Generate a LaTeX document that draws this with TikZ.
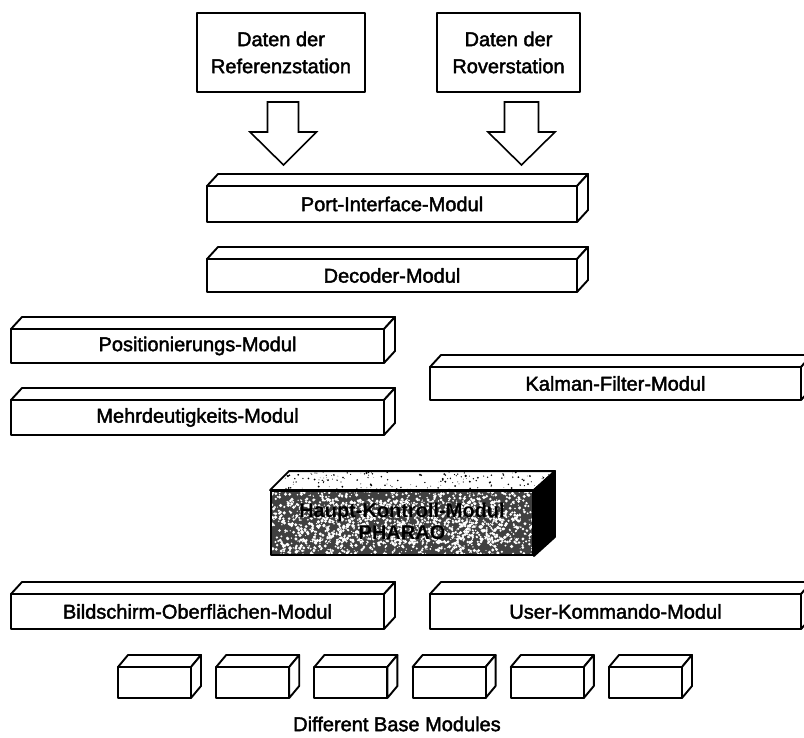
\documentclass[tikz,border=0pt]{standalone}
\usepackage{fontspec}
\setmainfont{Liberation Sans}
\newfontfamily\labelfont[FakeBold=2]{Liberation Sans}
\newfontfamily\mainlabelfont{Liberation Sans Bold}
\usetikzlibrary{calc}

\tikzset{
  edge/.style={line width=1.9pt, line join=round},
  databox/.style={edge, draw, fill=white, inner sep=0pt, align=center,
    font=\labelfont\fontsize{20}{27}\selectfont},
  frontface/.style={edge, draw, fill=white, inner sep=0pt,
    font=\labelfont\fontsize{20}{24}\selectfont},
  blockarrow/.style={line width=1.6pt, line join=miter, fill=white},
  caption/.style={inner sep=0pt, font=\labelfont\fontsize{20}{24}\selectfont},
  maintextstyle/.style={align=center, inner sep=0pt,
    font=\mainlabelfont\fontsize{20}{22}\selectfont},
}

% 3-D module bar: #1 name, front face from (#2,#3) to (#4,#5),
% depth offset (#6,#7), #8 label
\newcommand\ModuleBox[8]{%
  \draw[edge, fill=white] (#2,#3) -- (#2+#6,#3-#7) -- (#4+#6,#3-#7) -- (#4,#3) -- cycle;
  \draw[edge, fill=white] (#4,#3) -- (#4+#6,#3-#7) -- (#4+#6,#5-#7) -- (#4,#5) -- cycle;
  \node[frontface, minimum width={(#4-#2)*1pt}, minimum height={(#5-#3)*1pt}]
    (#1) at ({(#2+#4)/2},{(#3+#5)/2}) {#8};%
}

\begin{document}
\begin{tikzpicture}[x=1pt, y=-1pt]
\useasboundingbox (0,0) rectangle (804,738);
\clip (0,0) rectangle (804,738);

% input data
\node[databox, minimum width=168pt, minimum height=79pt] (refdata)
  at (281,52.5) {Daten der\\Referenzstation};
\node[databox, minimum width=143pt, minimum height=79pt] (roverdata)
  at (508.5,52.5) {Daten der\\Roverstation};

% hollow block arrows into the port interface
\coordinate (refin) at (283.5,165);
\coordinate (roverin) at (521.5,165);
\draw[blockarrow] (refin) ++(-16,-63) -- ++(31,0) -- ++(0,30) -- ++(18,0)
  -- (refin) -- ++(-33.5,-33) -- ++(17.5,0) -- cycle;
\draw[blockarrow] (roverin) ++(-17,-63) -- ++(34,0) -- ++(0,30) -- ++(16.5,0)
  -- (roverin) -- ++(-33.5,-33) -- ++(16.5,0) -- cycle;

% module bars
\ModuleBox{port}{207}{186}{577}{222}{11}{12}{Port-Interface-Modul}
\ModuleBox{decoder}{207}{259}{577}{292}{11}{12}{Decoder-Modul}
\ModuleBox{position}{11}{329}{384}{363}{11}{12}{Positionierungs-Modul}
\ModuleBox{ambiguity}{11}{400}{384}{435}{11}{12}{Mehrdeutigkeits-Modul}
\ModuleBox{kalman}{430}{367}{801}{400}{11}{12}{Kalman-Filter-Modul}
\ModuleBox{screen}{11}{594}{384}{629}{11}{12}{Bildschirm-Oberflächen-Modul}
\ModuleBox{usercmd}{430}{594}{801}{629}{11}{12}{User-Kommando-Modul}

% main control module (dark, grainy block)
\pgfmathsetseed{4711}
\fill[black!75] (271,491) rectangle (533,555);
\begin{scope}
  \clip (271,491) rectangle (533,555);
  \foreach \i in {1,...,1300}{
    \pgfmathsetmacro\px{271+262*rnd}
    \pgfmathsetmacro\py{491+64*rnd}
    \pgfmathsetmacro\pr{0.5+1.3*rnd}
    \fill[white] (\px,\py) circle[radius=\pr pt];
  }
  % denser grain behind the lettering
  \foreach \i in {1,...,700}{
    \pgfmathsetmacro\px{300+204*rnd}
    \pgfmathsetmacro\py{499+44*rnd}
    \pgfmathsetmacro\pr{0.5+1.2*rnd}
    \fill[white] (\px,\py) circle[radius=\pr pt];
  }
\end{scope}
\node[maintextstyle, text=black] (maintext) at (402,521)
  {Haupt-Kontroll-Modul\\PHARAO};
\node[edge, draw, minimum width=262pt, minimum height=64pt, inner sep=0pt]
  (main) at (402,523) {};
\draw[edge, fill=white] (main.north west) -- ++(19,-19) -- ($(main.north east)+(21,-19)$)
  -- (main.north east) -- cycle;
\begin{scope}
  \clip (main.north west) -- ++(19,-19) -- ($(main.north east)+(21,-19)$)
  -- (main.north east) -- cycle;
  \foreach \i in {1,...,180}{
    \pgfmathsetmacro\px{285+270*rnd}
    \pgfmathsetmacro\py{472+19*rnd}
    \pgfmathsetmacro\pr{0.3+0.8*rnd}
    \fill[black] (\px,\py) circle[radius=\pr pt];
  }
\end{scope}
\draw[edge, fill=black] (main.north east) -- ++(21,-19) -- ($(main.south east)+(21,-19)$)
  -- (main.south east) -- cycle;

% base modules
\foreach \k in {0,...,5}{
  \pgfmathsetmacro\cx{118+98.2*\k}
  \pgfmathsetmacro\cxx{\cx+73}
  \ModuleBox{base\k}{\cx}{667}{\cxx}{698}{10}{12}{}
}
\node[caption] (basecaption) at (397,724) {Different Base Modules};
\end{tikzpicture}
\end{document}
